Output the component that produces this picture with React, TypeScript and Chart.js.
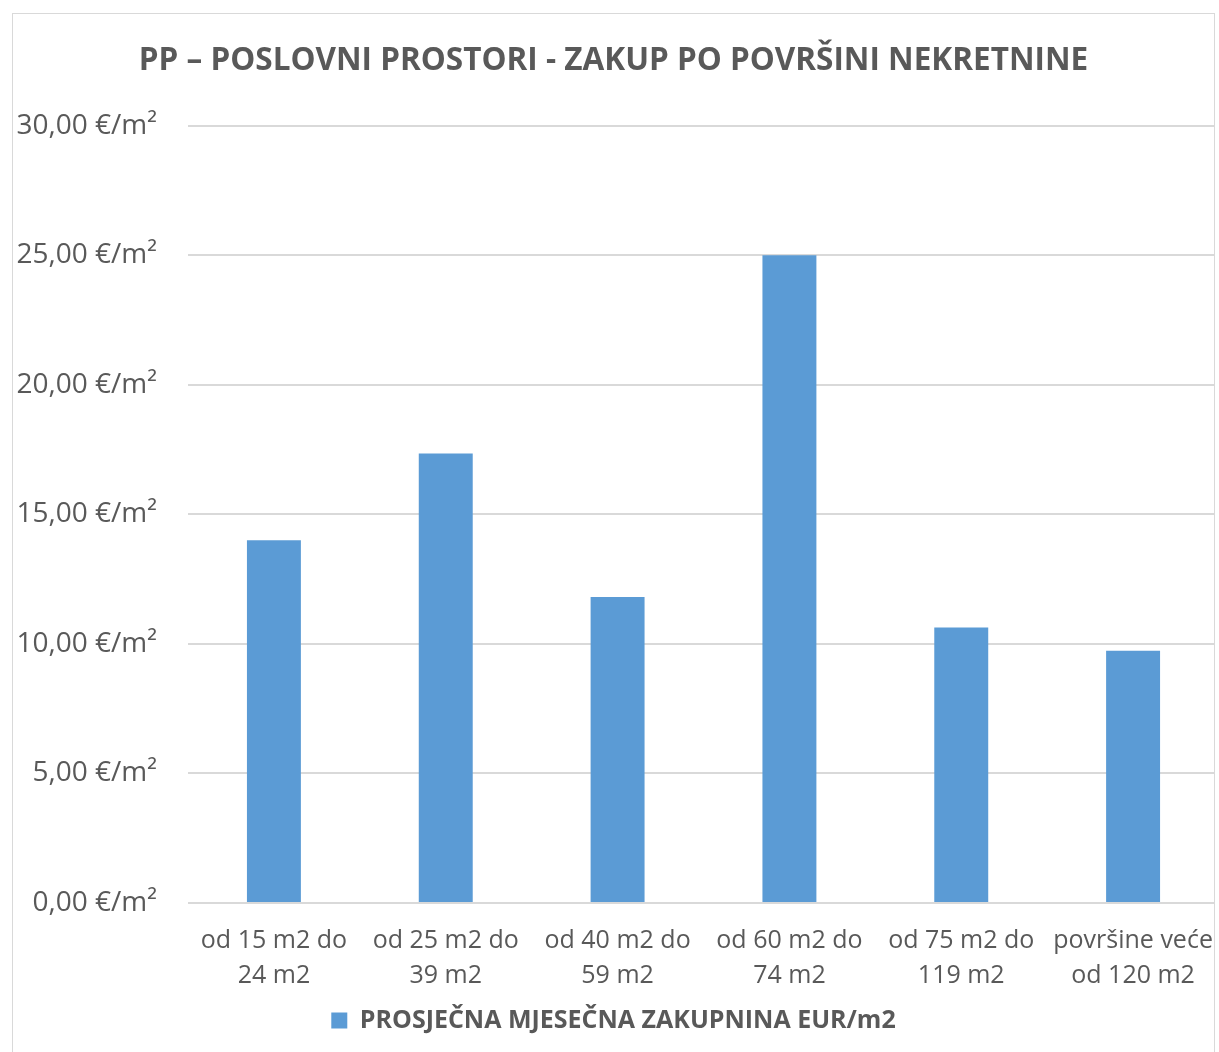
import React, { useEffect, useRef } from "react";
import { Chart, registerables } from "chart.js";

Chart.register(...registerables);

const categories: string[][] = [
  ["od 15 m2 do", "24 m2"],
  ["od 25 m2 do", "39 m2"],
  ["od 40 m2 do", "59 m2"],
  ["od 60 m2 do", "74 m2"],
  ["od 75 m2 do", "119 m2"],
  ["površine veće", "od 120 m2"],
];
const seriesName = "PROSJEČNA MJESEČNA ZAKUPNINA EUR/m2";
const seriesValues: number[] = [14.0, 17.35, 11.81, 25.0, 10.63, 9.74];
const yTicks: number[] = [0, 5, 10, 15, 20, 25, 30];
const chartTitle = "PP – POSLOVNI PROSTORI - ZAKUP PO POVRŠINI NEKRETNINE";

const TEXT = "#595959";
const GRID = "#D9D9D9";
const BAR = "#5B9BD5";
const FONT = "'Open Sans', 'Noto Sans', sans-serif";

function formatTick(v: number): string {
  return v.toFixed(2).replace(".", ",") + " €/m²";
}

export default function App() {
  const ref = useRef<HTMLCanvasElement | null>(null);

  useEffect(() => {
    if (!ref.current) return;
    const chart = new Chart(ref.current, {
      type: "bar",
      data: {
        labels: categories,
        datasets: [
          {
            label: seriesName,
            data: seriesValues,
            backgroundColor: BAR,
            borderWidth: 0,
            barPercentage: 0.314,
            categoryPercentage: 1,
          },
        ],
      },
      options: {
        animation: false,
        responsive: false,
        maintainAspectRatio: false,
        layout: { padding: { left: 8, right: 0, top: 0, bottom: 9 } },
        plugins: {
          title: {
            display: true,
            text: chartTitle,
            color: TEXT,
            font: { family: FONT, size: 31.5, weight: "bold", lineHeight: 1.2 },
            padding: { top: 42, bottom: 46 },
          },
          legend: {
            display: true,
            position: "bottom",
            labels: {
              color: TEXT,
              font: { family: FONT, size: 25, weight: "bold" },
              boxWidth: 16,
              boxHeight: 16,
              padding: 10,
            },
          },
          tooltip: { enabled: false },
        },
        scales: {
          x: {
            grid: { display: false, drawTicks: false },
            border: { display: false },
            ticks: {
              color: TEXT,
              font: { family: FONT, size: 25, lineHeight: 1.4 },
              padding: 20,
              maxRotation: 0,
              autoSkip: false,
            },
            afterFit: (scale: any) => {
              scale.height = 95;
              scale.paddingLeft = 0;
              scale.paddingRight = 0;
            },
          },
          y: {
            min: yTicks[0],
            max: yTicks[yTicks.length - 1],
            afterBuildTicks: (scale: any) => {
              scale.ticks = yTicks.map((v) => ({ value: v }));
            },
            grid: { color: GRID, lineWidth: 2, drawTicks: false },
            border: { display: false },
            ticks: {
              color: TEXT,
              font: { family: FONT, size: 28 },
              padding: 31,
              callback: (v: any) => formatTick(Number(v)),
            },
            afterFit: (scale: any) => {
              scale.width = 180;
            },
          },
        },
      },
    });
    return () => chart.destroy();
  }, []);

  return (
    <div
      style={{
        position: "absolute",
        left: 0,
        top: 0,
        width: 1215,
        height: 1052,
        overflow: "hidden",
        background: "#ffffff",
      }}
    >
      <canvas
        ref={ref}
        width={1219}
        height={1052}
        style={{ position: "absolute", left: 0, top: 0, width: 1219, height: 1052 }}
      />
      <div
        style={{
          position: "absolute",
          left: 12,
          top: 13,
          width: 1201,
          height: 1100,
          border: "1px solid #D9D9D9",
          pointerEvents: "none",
        }}
      />
    </div>
  );
}
